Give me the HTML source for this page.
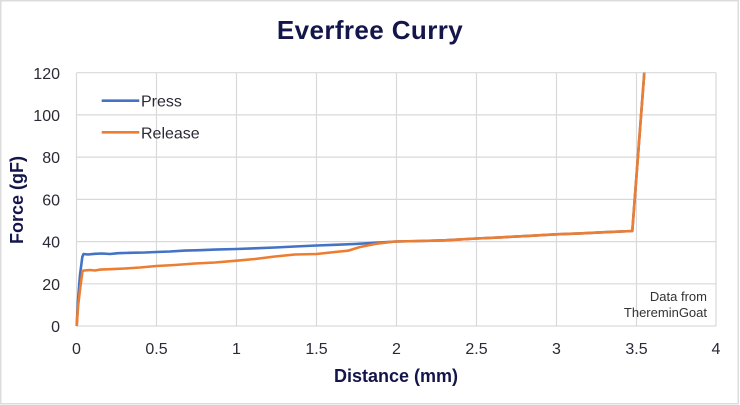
<!DOCTYPE html>
<html>
<head>
<meta charset="utf-8">
<style>
  html, body { margin:0; padding:0; background:#ffffff; }
  body { width:740px; height:405px; overflow:hidden; }
  svg { display:block; }
  text { font-family: "Liberation Sans", "DejaVu Sans", sans-serif; }
</style>
</head>
<body>
<svg width="740" height="405" viewBox="0 0 740 405" xmlns="http://www.w3.org/2000/svg">
  <rect x="0" y="0" width="740" height="405" fill="#ffffff"/>
  <rect x="0.75" y="0.75" width="737.5" height="403" fill="none" stroke="#dcdcdc" stroke-width="1.5"/>

  <!-- Title -->
  <text x="370" y="39" text-anchor="middle" font-size="26" font-weight="bold" fill="#14154a" letter-spacing="0.4">Everfree Curry</text>

  <!-- Gridlines -->
  <g stroke="#d9d9d9" stroke-width="1.2" fill="none">
    <line x1="76.5" y1="72.7" x2="716" y2="72.7"/>
    <line x1="76.5" y1="114.9" x2="716" y2="114.9"/>
    <line x1="76.5" y1="157.1" x2="716" y2="157.1"/>
    <line x1="76.5" y1="199.4" x2="716" y2="199.4"/>
    <line x1="76.5" y1="241.6" x2="716" y2="241.6"/>
    <line x1="76.5" y1="283.8" x2="716" y2="283.8"/>
    <line x1="76.5" y1="326" x2="716" y2="326"/>
    <line x1="76.5" y1="72.7" x2="76.5" y2="326"/>
    <line x1="156.5" y1="72.7" x2="156.5" y2="326"/>
    <line x1="236.5" y1="72.7" x2="236.5" y2="326"/>
    <line x1="316.5" y1="72.7" x2="316.5" y2="326"/>
    <line x1="396.5" y1="72.7" x2="396.5" y2="326"/>
    <line x1="476.5" y1="72.7" x2="476.5" y2="326"/>
    <line x1="556.5" y1="72.7" x2="556.5" y2="326"/>
    <line x1="636.5" y1="72.7" x2="636.5" y2="326"/>
    <line x1="716" y1="72.7" x2="716" y2="326"/>
  </g>

  <!-- Y tick labels -->
  <g font-size="16" fill="#2a2a36" text-anchor="end">
    <text x="60" y="79">120</text>
    <text x="60" y="121">100</text>
    <text x="60" y="163">80</text>
    <text x="60" y="205.5">60</text>
    <text x="60" y="247.5">40</text>
    <text x="60" y="290">20</text>
    <text x="60" y="332">0</text>
  </g>

  <!-- X tick labels -->
  <g font-size="16" fill="#2a2a36" text-anchor="middle">
    <text x="76.5" y="354">0</text>
    <text x="156.5" y="354">0.5</text>
    <text x="236.5" y="354">1</text>
    <text x="316.5" y="354">1.5</text>
    <text x="396.5" y="354">2</text>
    <text x="476.5" y="354">2.5</text>
    <text x="556.5" y="354">3</text>
    <text x="636.5" y="354">3.5</text>
    <text x="716" y="354">4</text>
  </g>

  <!-- Axis titles -->
  <text x="396" y="382" text-anchor="middle" font-size="18" font-weight="bold" fill="#14154a">Distance (mm)</text>
  <text transform="translate(23,200) rotate(-90)" text-anchor="middle" font-size="18" font-weight="bold" fill="#14154a">Force (gF)</text>

  <!-- Data credit -->
  <g font-size="13" fill="#333333" text-anchor="end">
    <text x="707" y="301">Data from</text>
    <text x="707" y="317">ThereminGoat</text>
  </g>

  <!-- Press series (blue) -->
  <polyline fill="none" stroke="#4472c4" stroke-width="2.6" stroke-linejoin="round"
    points="76.7,326 78,300 80,275 82.3,257 83.5,254 88,254.5 95,253.8 102,253.5 110,254 118,253.2 130,252.8 145,252.5 156.5,252 170,251.5 185,250.6 200,250.2 215,249.6 236.5,249 255,248.3 275,247.5 295,246.5 316.5,245.5 335,244.8 355,244 375,242.8 396.5,241.5 420,241 445,240.3 476.5,238.5 500,237.4 530,235.8 556.5,234.3 580,233.4 605,232.2 632.3,231 644.3,72.7"/>

  <!-- Release series (orange) -->
  <polyline fill="none" stroke="#ed7d31" stroke-width="2.6" stroke-linejoin="round"
    points="76.7,326 78.2,305 80.2,288 82.5,271 84,270.5 90,270 95,270.5 100,269.6 110,269.2 125,268.5 140,267.5 156.5,266 175,265 195,263.5 215,262.5 236.5,260.7 255,259 275,256.5 295,254.5 316.5,254 335,252 348,250.7 360,247 375,244 393,241.7 396.5,241.5 420,241 445,240.3 476.5,238.5 500,237.4 530,235.8 556.5,234.3 580,233.4 605,232.2 632.3,231 644.3,72.7"/>

  <!-- Legend -->
  <line x1="101.7" y1="100.7" x2="139.3" y2="100.7" stroke="#4472c4" stroke-width="2.6"/>
  <text x="141" y="106.7" font-size="16" fill="#2a2a36">Press</text>
  <line x1="101.7" y1="132.3" x2="139.3" y2="132.3" stroke="#ed7d31" stroke-width="2.6"/>
  <text x="141" y="138.3" font-size="16" fill="#2a2a36">Release</text>
</svg>
</body>
</html>
